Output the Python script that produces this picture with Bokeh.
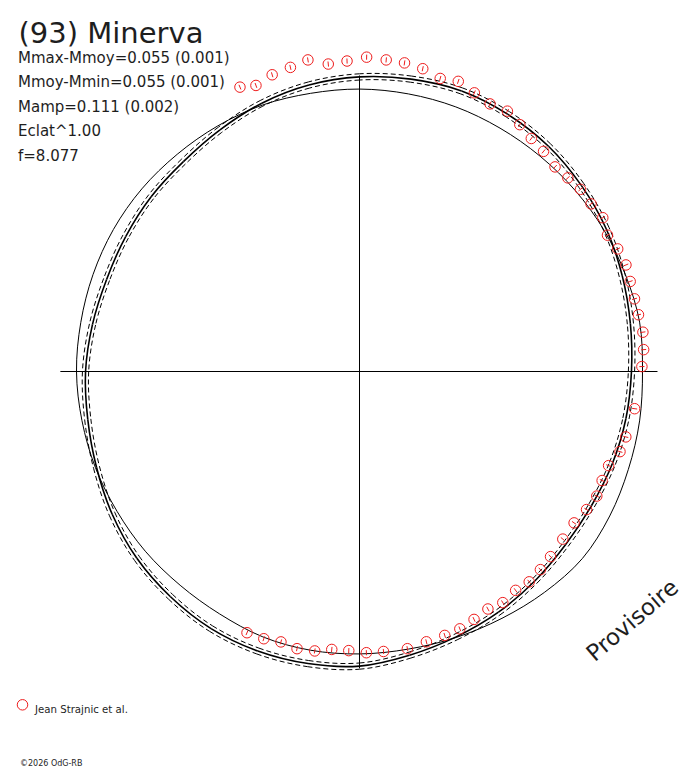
import numpy as np
from bokeh.plotting import figure
from bokeh.models import Range1d, Label
from bokeh.embed import file_html
from bokeh.resources import INLINE

# ---------------- data ----------------
title_text = "(93) Minerva"
info_lines = ["Mmax-Mmoy=0.055 (0.001)", "Mmoy-Mmin=0.055 (0.001)",
              "Mamp=0.111 (0.002)", "Eclat^1.00", "f=8.077"]
legend_label = "Jean Strajnic et al."
credit_text = "\u00a92026 OdG-RB"
stamp_text = "Provisoire"

# observations: polar angle (deg) and relative radius
obs_phase_deg = [112.8, 109.9, 106.4, 102.8, 99.4, 95.8, 92.3, 88.7, 85.1, 81.7,
                 78.2, 74.6, 71.2, 67.6, 64.0, 60.4, 57.0, 53.6, 50.1, 46.3,
                 42.9, 39.5, 35.9, 32.3, 28.8, 25.4, 21.8, 18.4, 14.8, 11.5,
                 7.9, 4.4, 1.0, -7.7, -13.8, -17.1, -20.7, -24.2, -27.7, -31.3,
                 -35.2, -39.5, -44.1, -47.6, -51.1, -54.5, -58.2, -61.6, -65.2, -68.7,
                 -72.1, -76.1, -80.2, -85.1, -88.6, -92.2, -95.7, -99.1, -102.7, -106.2,
                 -109.7, -113.3]
obs_radius = [1.090, 1.075, 1.093, 1.102, 1.116, 1.092, 1.098, 1.111, 1.105, 1.102,
              1.093, 1.074, 1.083, 1.065, 1.052, 1.058, 1.040, 1.023, 1.014, 1.000,
              1.005, 1.012, 1.010, 1.017, 1.000, 1.010, 1.014, 1.008, 1.005, 1.006,
              1.011, 1.007, 0.998, 0.981, 0.969, 0.963, 0.941, 0.940, 0.947, 0.939,
              0.928, 0.931, 0.940, 0.948, 0.955, 0.950, 0.961, 0.954, 0.965, 0.976,
              0.980, 0.984, 0.994, 0.993, 0.994, 0.987, 0.987, 1.000, 1.004, 0.995,
              1.003, 1.005]
obs_err = 0.009

curve_phase_deg = [0, 10, 20, 30, 40, 50, 60, 70, 80, 90, 100, 110,
                   120, 130, 140, 150, 160, 170, 180, 190, 200, 210, 220, 230,
                   240, 250, 260, 270, 280, 290, 300, 310, 320, 330, 340, 350]
model_radius = [0.961, 0.972, 0.988, 1.007, 1.023, 1.039, 1.049, 1.055, 1.049, 1.041, 1.028, 1.009,
                0.986, 0.968, 0.961, 0.954, 0.951, 0.958, 0.968, 0.975, 0.989, 1.009, 1.027, 1.039,
                1.049, 1.051, 1.048, 1.041, 1.018, 0.998, 0.982, 0.965, 0.951, 0.947, 0.951, 0.956]
model_sigma = 0.011
ref_radius = [1.000, 1.005, 1.000, 0.998, 0.995, 0.993, 0.993, 0.995, 0.996, 0.998, 0.998, 1.002,
              1.002, 1.002, 1.004, 1.004, 1.002, 1.000, 1.000, 0.996, 0.993, 0.989, 0.988, 0.986,
              0.989, 0.998, 1.000, 0.998, 0.996, 1.000, 1.007, 1.018, 1.028, 1.021, 1.011, 1.005]

axis_extent = {"left": -1.057, "right": 1.053, "bottom": -1.049, "top": 1.046}

# ---------------- layout ----------------
W, H = 688, 768
S = 283.0            # px per radius unit
CX, CY = 359, 371    # pole position in pixels


def px_x(page_x):
    return (page_x - CX) / S


def px_y(page_y):
    return (CY - page_y) / S


def polar(theta_deg, r):
    t = np.radians(np.asarray(theta_deg, dtype=float))
    r = np.asarray(r, dtype=float)
    return r * np.cos(t), r * np.sin(t)


def smooth_closed(ax, theta_deg, radius, **kw):
    """Draw a closed smooth curve through the given polar points (Catmull-Rom as Bezier)."""
    x, y = polar(theta_deg, radius)
    n = len(x)
    i = np.arange(n)
    p0x, p0y = x[(i - 1) % n], y[(i - 1) % n]
    p1x, p1y = x, y
    p2x, p2y = x[(i + 1) % n], y[(i + 1) % n]
    p3x, p3y = x[(i + 2) % n], y[(i + 2) % n]
    c0x = p1x + (p2x - p0x) / 6.0
    c0y = p1y + (p2y - p0y) / 6.0
    c1x = p2x - (p3x - p1x) / 6.0
    c1y = p2y - (p3y - p1y) / 6.0
    ax.bezier(x0=p1x, y0=p1y, x1=p2x, y1=p2y, cx0=c0x, cy0=c0y, cx1=c1x, cy1=c1y, **kw)


p = figure(width=W, height=H,
           x_range=Range1d(-CX / S, (W - CX) / S),
           y_range=Range1d(-(H - CY) / S, CY / S),
           output_backend="svg", toolbar_location=None,
           x_axis_type=None, y_axis_type=None, min_border=0)
p.outline_line_color = None
p.background_fill_color = "white"
p.border_fill_color = "white"

# crosshair
p.segment(x0=[axis_extent["left"], 0], y0=[0, axis_extent["bottom"]],
          x1=[axis_extent["right"], 0], y1=[0, axis_extent["top"]],
          line_color="black", line_width=1)

mod = np.array(model_radius)
ref = np.array(ref_radius)

# reference thin curve
smooth_closed(p, curve_phase_deg, ref, line_color="black", line_width=1)

# model envelope (dashed)
for sgn in (-1, 1):
    smooth_closed(p, curve_phase_deg, mod + sgn * model_sigma,
                  line_color="black", line_width=1, line_dash="5 3")

# model
smooth_closed(p, curve_phase_deg, mod, line_color="black", line_width=1.6)

# observations
red = "#ee1c1c"
ox, oy = polar(obs_phase_deg, obs_radius)
r_in = np.array(obs_radius) - obs_err
r_out = np.array(obs_radius) + obs_err
x0, y0 = polar(obs_phase_deg, r_in)
x1, y1 = polar(obs_phase_deg, r_out)
p.segment(x0=x0, y0=y0, x1=x1, y1=y1, line_color=red, line_width=1)
p.scatter(ox, oy, marker="circle", size=10.5, fill_color=None,
          line_color=red, line_width=1)

# texts
FONT = "DejaVu Sans"
TXT = "#1e1e1e"
p.add_layout(Label(x=px_x(18), y=px_y(32.3), text=title_text, text_font=FONT,
                   text_font_size="29px", text_color=TXT,
                   text_baseline="alphabetic", text_align="left"))
for line, base in zip(info_lines, [57, 81.5, 106, 130.5, 155]):
    p.add_layout(Label(x=px_x(17.5), y=px_y(base), text=line, text_font=FONT,
                       text_font_size="15px", text_color=TXT,
                       text_baseline="alphabetic", text_align="left"))

# legend
p.scatter([px_x(22)], [px_y(704.3)], marker="circle", size=10.5,
          fill_color=None, line_color=red, line_width=1)
p.add_layout(Label(x=px_x(34.5), y=px_y(709), text=legend_label, text_font=FONT,
                   text_font_size="10.2px", text_color=TXT,
                   text_baseline="alphabetic", text_align="left"))

# credit
p.add_layout(Label(x=px_x(19.5), y=px_y(763), text=credit_text, text_font=FONT,
                   text_font_size="8px", text_color=TXT,
                   text_baseline="alphabetic", text_align="left"))

# stamp
p.add_layout(Label(x=px_x(589), y=px_y(656), text=stamp_text, text_font=FONT,
                   text_font_size="23px", text_color=TXT, angle=40.5,
                   angle_units="deg", text_baseline="alphabetic", text_align="left"))

open("out.html", "w").write(file_html(p, INLINE))
